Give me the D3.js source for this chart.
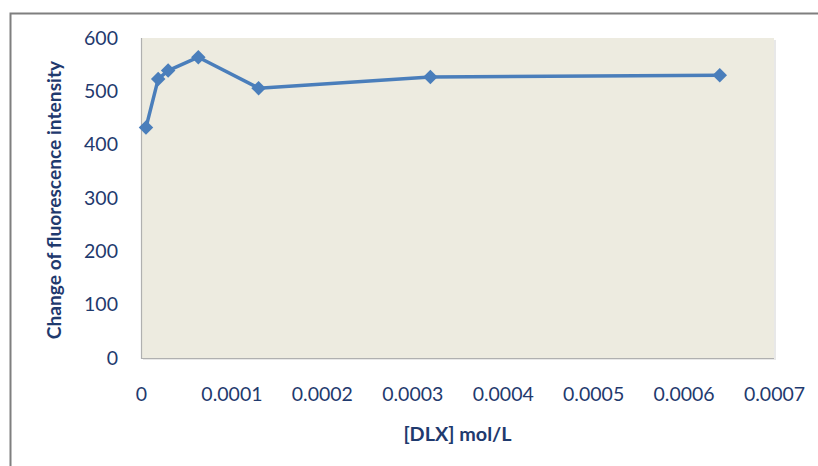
<!DOCTYPE html>
<html><head><meta charset="utf-8">
<script src="https://cdn.jsdelivr.net/npm/d3@7"></script>
<style>
html,body{margin:0;padding:0;background:#fff;}
svg{display:block;font-family:Lato,"Open Sans",sans-serif;}
</style></head>
<body><svg id="c" width="818" height="466"></svg>
<script>
const concentrations = [0.0000055, 0.000019, 0.00003, 0.0000634, 0.00013, 0.00032, 0.00064];
const intensityChange = [432, 523, 539, 564, 506, 527, 530];
const xTicks = [0, 0.0001, 0.0002, 0.0003, 0.0004, 0.0005, 0.0006, 0.0007];
const xTickLabels = ["0", "0.0001", "0.0002", "0.0003", "0.0004", "0.0005", "0.0006", "0.0007"];
const yTicks = [0, 100, 200, 300, 400, 500, 600];
const xTitle = "[DLX] mol/L";
const yTitle = "Change of fluorescence intensity";

const svg = d3.select("#c");
const W = 818, H = 466;
const m = {left:141, right:774, top:38, bottom:358};
const textColor = "#1f3a6e";
const lineColor = "#4a7ebb";

// outer frame
svg.append("rect").attr("x",10.5).attr("y",13.5).attr("width",W+20).attr("height",H+20)
  .attr("fill","#fff").attr("stroke","#7f7f7f").attr("stroke-width",2);

const x = d3.scaleLinear().domain([0,0.0007]).range([m.left,m.right]);
const y = d3.scaleLinear().domain([0,600]).range([m.bottom,m.top]);

// shadow + plot background
svg.append("rect").attr("x",m.left+2).attr("y",m.top+2).attr("width",m.right-m.left).attr("height",m.bottom-m.top)
  .attr("fill","#e8e8e8");
svg.append("rect").attr("x",m.left).attr("y",m.top).attr("width",m.right-m.left).attr("height",m.bottom-m.top)
  .attr("fill","#edebe0");
// left & bottom border
svg.append("path").attr("d",`M${m.left+0.5},${m.top}V${m.bottom+0.5}H${m.right}`)
  .attr("fill","none").attr("stroke","#b0b0b0").attr("stroke-width",1.2);

// y axis labels
const yAxis = d3.axisLeft(y).tickValues(yTicks).tickSize(0).tickPadding(23);
const gy = svg.append("g").attr("transform",`translate(${m.left},0)`).call(yAxis);
gy.select(".domain").remove();
gy.selectAll("text").attr("fill",textColor).style("font-size","19.5px").style("font-family","Lato");

// x axis labels
const xAxis = d3.axisBottom(x).tickValues(xTicks).tickFormat((d,i)=>xTickLabels[i]).tickSize(0).tickPadding(29);
const gx = svg.append("g").attr("transform",`translate(0,${m.bottom})`).call(xAxis);
gx.select(".domain").remove();
gx.selectAll("text").attr("fill",textColor).style("font-size","19.5px").style("font-family","Lato");

// titles
svg.append("text").attr("x",(m.left+m.right)/2).attr("y",441).attr("text-anchor","middle")
  .attr("fill",textColor).style("font-size","19.8px").style("font-weight","bold").text(xTitle);
svg.append("text").attr("transform",`translate(61,${(m.top+m.bottom)/2+2}) rotate(-90)`).attr("text-anchor","middle")
  .attr("fill",textColor).style("font-size","19.2px").style("font-weight","bold").text(yTitle);

// line
const data = concentrations.map((c,i)=>({x:c,y:intensityChange[i]}));
svg.append("path").datum(data)
  .attr("d",d3.line().x(d=>x(d.x)).y(d=>y(d.y)))
  .attr("fill","none").attr("stroke",lineColor).attr("stroke-width",3.5).attr("stroke-linejoin","round");
svg.selectAll(".pt").data(data).enter().append("path").attr("class","pt")
  .attr("transform",d=>`translate(${x(d.x)},${y(d.y)}) rotate(45)`)
  .attr("d",d3.symbol().type(d3.symbolSquare).size(105))
  .attr("fill",lineColor);
</script></body></html>
